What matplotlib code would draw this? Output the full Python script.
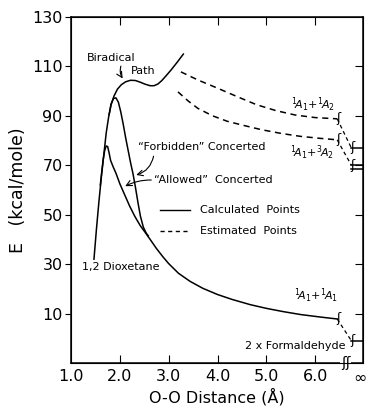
import matplotlib
matplotlib.use("Agg")
import matplotlib.pyplot as plt
import numpy as np

plt.rcParams['font.family'] = ['DejaVu Sans']

# ---- data ----
biradical_x = [1.47, 1.52, 1.57, 1.62, 1.67, 1.72, 1.77, 1.82, 1.88, 1.95, 2.03, 2.12, 2.22,
               2.32, 2.42, 2.52, 2.62, 2.70, 2.78, 2.86, 2.95, 3.05, 3.17, 3.30]
biradical_y = [32.0, 44.0, 55.0, 65.0, 74.0, 83.0, 89.5, 94.5, 98.0, 100.8, 102.6, 103.8, 104.4,
               104.3, 103.6, 102.8, 102.2, 102.2, 102.9, 104.3, 106.3, 108.6, 111.6, 115.0]

forbidden_x = [1.78, 1.82, 1.87, 1.92, 1.97, 2.02, 2.07, 2.12, 2.17, 2.22, 2.27, 2.32, 2.37,
               2.42, 2.48, 2.54, 2.58]
forbidden_y = [90.5, 94.8, 97.0, 97.3, 95.5, 91.5, 86.5, 81.0, 76.0, 71.0, 66.5, 61.0, 55.0,
               49.5, 45.0, 42.5, 41.5]

allowed_x = [1.60, 1.63, 1.66, 1.69, 1.72, 1.75, 1.78, 1.81, 1.86, 1.92, 2.00, 2.10, 2.20, 2.31,
             2.42, 2.52, 2.62, 2.75, 2.88, 3.00, 3.20, 3.44, 3.70, 4.00, 4.30, 4.67, 5.00, 5.34,
             5.70, 6.10, 6.45]
allowed_y = [62.0, 67.5, 72.5, 76.0, 77.8, 77.6, 75.0, 72.0, 69.5, 66.8, 62.5, 58.0, 53.5, 49.2,
             45.5, 42.8, 40.0, 36.3, 33.0, 30.2, 26.3, 23.0, 20.2, 17.7, 15.7, 13.6, 12.1, 10.8,
             9.6, 8.6, 7.8]

a1a2_x = [3.25, 3.60, 4.00, 4.40, 4.80, 5.20, 5.60, 6.00, 6.45]
a1a2_y = [107.8, 104.5, 101.2, 97.8, 94.5, 92.1, 90.3, 89.3, 88.8]

a1a3_x = [3.19, 3.40, 3.60, 3.90, 4.20, 4.52, 4.90, 5.30, 5.70, 6.10, 6.45]
a1a3_y = [99.7, 96.0, 93.0, 90.0, 87.8, 86.2, 84.4, 82.9, 81.7, 80.9, 80.3]

# energies at infinite separation
inf_energy = [77.0, 70.0, -1.0]
x_inf_start = 6.74

xticks = [1.0, 2.0, 3.0, 4.0, 5.0, 6.0]
xticklabels = ["1.0", "2.0", "3.0", "4.0", "5.0", "6.0"]
yticks = [10, 30, 50, 70, 90, 110, 130]

XMIN, XMAX = 1.0, 6.97
YMIN, YMAX = -10, 130

fig = plt.figure(figsize=(3.67, 4.12), dpi=100)
ax = fig.add_axes([0.1935, 0.119, 0.7945, 0.8397])
ax.set_xlim(XMIN, XMAX)
ax.set_ylim(YMIN, YMAX)

lw = 1.1
kw = dict(color="black", lw=lw, solid_joinstyle="round")
ax.plot(biradical_x, biradical_y, **kw)
ax.plot(forbidden_x, forbidden_y, **kw)
ax.plot(allowed_x, allowed_y, **kw)
ax.plot(a1a2_x, a1a2_y, ls=(0, (4, 3)), color="black", lw=lw)
ax.plot(a1a3_x, a1a3_y, ls=(0, (4, 3)), color="black", lw=lw)

# connections to infinite separation
ends = [(a1a2_x[-1], a1a2_y[-1]), (a1a3_x[-1], a1a3_y[-1]), (allowed_x[-1], allowed_y[-1])]
for (xe, ye), e in zip(ends, inf_energy):
    ax.plot([xe, x_inf_start], [ye, e], ls=(0, (3, 2.5)), color="black", lw=0.9)
    ax.plot([x_inf_start, XMAX], [e, e], color="black", lw=lw, clip_on=False)
    ax.text(xe + 0.02, ye, "ʃ", fontsize=9, ha="center", va="center")
    ax.text(x_inf_start + 0.02, e, "ʃ", fontsize=9, ha="center", va="center")
# double line at triplet asymptote
ax.plot([x_inf_start, XMAX], [inf_energy[1] - 1.5, inf_energy[1] - 1.5], color="black", lw=lw)

# axes styling
for s in ax.spines.values():
    s.set_linewidth(1.1)
ax.set_xticks(xticks)
ax.set_xticklabels(xticklabels, fontsize=11.5)
ax.tick_params(axis="x", direction="in", length=6, top=True, pad=4)
ax.xaxis.get_major_ticks()[0].tick1line.set_visible(False)
ax.xaxis.get_major_ticks()[0].tick2line.set_visible(False)
ax.set_yticks(yticks)
ax.set_yticklabels([str(v) for v in yticks], fontsize=11.5)
ax.tick_params(axis="y", direction="out", length=4, pad=2)
ax.tick_params(axis="y", which="both", right=False)
# infinity label at the right end of the x axis
ax.text(XMAX - 0.05, YMIN - 3.2, "∞", fontsize=11.5, ha="center", va="top")
# right-side inward ticks
ax2 = ax.twinx()
ax2.set_ylim(YMIN, YMAX)
ax2.set_yticks([10, 30, 50, 70, 90, 110])
ax2.set_yticklabels([])
ax2.tick_params(axis="y", direction="in", length=6)

# axis-break mark on x axis
ax.text(6.62, YMIN, "ʃʃ", fontsize=10, ha="center", va="center",
        bbox=dict(boxstyle="square,pad=0.05", fc="white", ec="none"), clip_on=False)

ax.set_xlabel("O-O Distance (Å)", fontsize=11.5, labelpad=3)
ax.set_ylabel("E   (kcal/mole)", fontsize=12.5, labelpad=4)

# annotations
fs = 8
ax.text(1.83, 113.4, "Biradical", fontsize=fs, ha="center", va="center")
ax.text(2.48, 108.0, "Path", fontsize=fs, ha="center", va="center")
ax.annotate("", xy=(2.09, 104.2), xytext=(2.04, 111.2),
            arrowprops=dict(arrowstyle="->", color="black", lw=0.8,
                            connectionstyle="arc3,rad=0.3"))
ax.text(2.37, 77.5, "\u201cForbidden\u201d Concerted", fontsize=fs, ha="left", va="center")
ax.annotate("", xy=(2.28, 65.8), xytext=(2.70, 74.8),
            arrowprops=dict(arrowstyle="->", color="black", lw=0.8,
                            connectionstyle="arc3,rad=-0.35"))
ax.text(2.70, 64.0, "\u201cAllowed\u201d  Concerted", fontsize=fs, ha="left", va="center")
ax.annotate("", xy=(2.06, 61.0), xytext=(2.70, 64.0),
            arrowprops=dict(arrowstyle="->", color="black", lw=0.8,
                            connectionstyle="arc3,rad=0.15"))
ax.plot([2.82, 3.44], [52.0, 52.0], color="black", lw=1.0)
ax.text(3.64, 52.0, "Calculated  Points", fontsize=fs, ha="left", va="center")
ax.plot([2.82, 3.44], [43.5, 43.5], color="black", lw=1.0, ls=(0, (3, 2.5)))
ax.text(3.64, 43.5, "Estimated  Points", fontsize=fs, ha="left", va="center")
ax.text(1.22, 29.0, "1,2 Dioxetane", fontsize=fs, ha="left", va="center")
ax.text(5.95, 94.5, r"$^{1}\!A_{1}\!+\!^{1}\!A_{2}$", fontsize=8, ha="center", va="center")
ax.text(5.94, 75.0, r"$^{1}\!A_{1}\!+\!^{3}\!A_{2}$", fontsize=8, ha="center", va="center")
ax.text(6.02, 17.0, r"$^{1}\!A_{1}\!+\!^{1}\!A_{1}$", fontsize=8, ha="center", va="center")
ax.text(6.62, -3.3, "2 x Formaldehyde", fontsize=fs, ha="right", va="center")

fig.savefig("out.png", dpi=100)
